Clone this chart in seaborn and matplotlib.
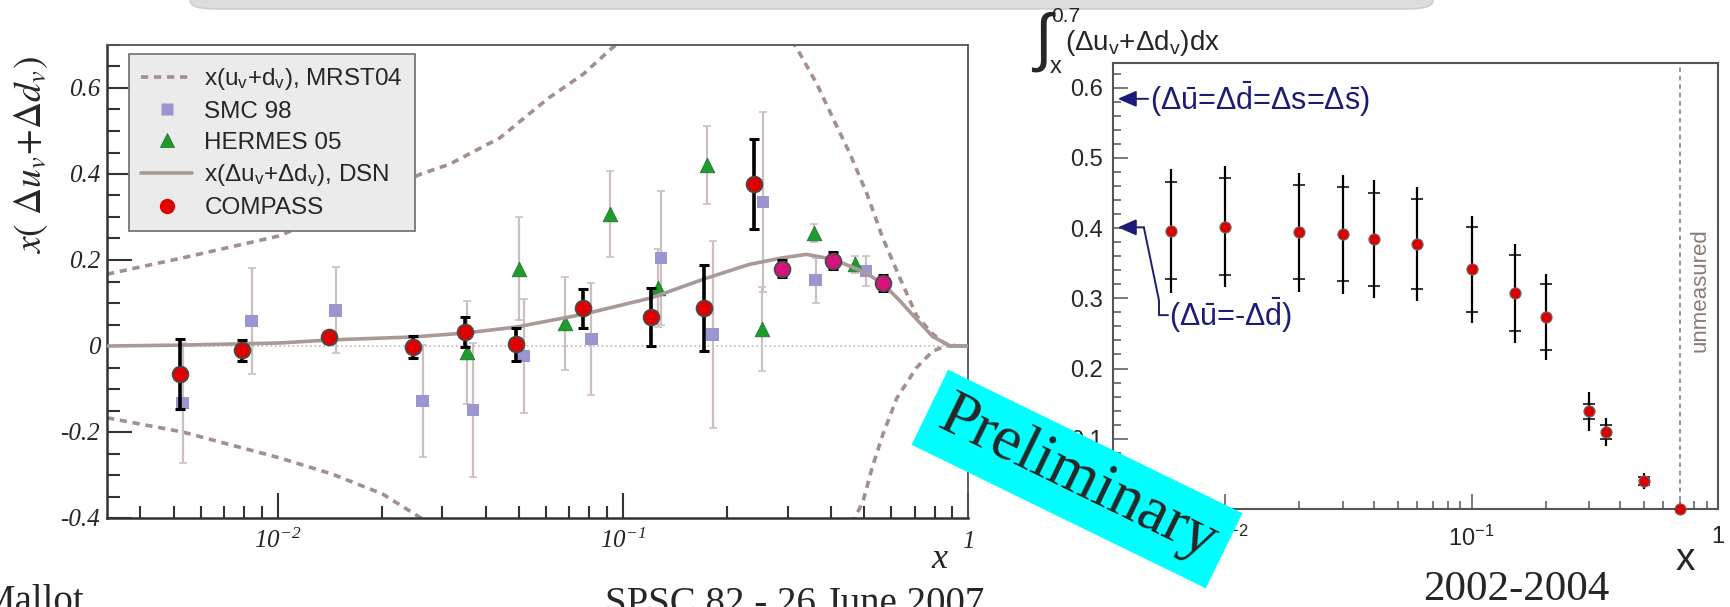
import numpy as np
import matplotlib
matplotlib.use('Agg')
import matplotlib.pyplot as plt
import matplotlib.transforms as mtransforms
from matplotlib.lines import Line2D
from matplotlib.patches import FancyBboxPatch
from matplotlib.ticker import MultipleLocator, FuncFormatter, LogLocator, NullFormatter
import seaborn as sns

# ---- left panel: x(Delta u_v + Delta d_v) ----
mrst_up_x = [0.0032, 0.0053, 0.0101, 0.026, 0.0315, 0.044, 0.061, 0.077, 0.093, 0.12, 0.17,
             0.23, 0.29, 0.319, 0.365, 0.406, 0.455, 0.51, 0.567, 0.635, 0.71, 0.79, 0.86, 0.93, 1.0]
mrst_up_y = [0.167, 0.205, 0.256, 0.40, 0.423, 0.484, 0.577, 0.633, 0.693, 0.76, 0.80,
             0.79, 0.74, 0.693, 0.609, 0.53, 0.447, 0.353, 0.25, 0.158, 0.07, 0.028, 0.005, 0.0, 0.0]
mrst_lo_x = [0.0032, 0.0053, 0.0101, 0.0144, 0.0201, 0.026, 0.032, 0.05, 0.1, 0.2, 0.35, 0.44,
             0.47, 0.497, 0.527, 0.567, 0.622, 0.71, 0.79, 0.86, 0.93, 1.0]
mrst_lo_y = [-0.167, -0.20, -0.26, -0.298, -0.344, -0.40, -0.44, -0.5, -0.7, -0.8, -0.65, -0.45,
             -0.40, -0.36, -0.284, -0.205, -0.121, -0.05, -0.012, 0.0, 0.0, 0.0]

dsn_x = [0.0032, 0.0052, 0.0101, 0.0141, 0.0246, 0.0348, 0.049, 0.077, 0.121, 0.172, 0.233,
         0.29, 0.34, 0.406, 0.5, 0.567, 0.635, 0.71, 0.79, 0.89, 1.0]
dsn_y = [0.0, 0.002, 0.007, 0.014, 0.021, 0.030, 0.044, 0.074, 0.112, 0.156, 0.19,
         0.205, 0.213, 0.202, 0.172, 0.145, 0.105, 0.062, 0.022, 0.0, 0.0]

smc_x = [0.0053, 0.0084, 0.0147, 0.0263, 0.0368, 0.0516, 0.081, 0.129, 0.182, 0.255, 0.362, 0.506]
smc_y = [-0.133, 0.058, 0.083, -0.128, -0.149, -0.023, 0.016, 0.205, 0.027, 0.335, 0.153, 0.174]
smc_err = [0.14, 0.123, 0.10, 0.13, 0.155, 0.133, 0.13, 0.156, 0.218, 0.21, 0.052, 0.035]

hermes_x = [0.0353, 0.050, 0.068, 0.092, 0.126, 0.175, 0.253, 0.358, 0.47]
hermes_y = [-0.015, 0.18, 0.053, 0.307, 0.135, 0.421, 0.04, 0.263, 0.19]
hermes_err = [0.12, 0.12, 0.108, 0.10, 0.09, 0.09, 0.098, 0.02, 0.02]

compass_x = [0.0052, 0.0079, 0.0141, 0.0246, 0.0348, 0.049, 0.0766, 0.121, 0.172, 0.24, 0.289, 0.406, 0.567]
compass_y = [-0.065, -0.010, 0.020, -0.002, 0.033, 0.004, 0.088, 0.067, 0.088, 0.377, 0.180, 0.198, 0.146]
compass_err = [0.081, 0.025, 0.012, 0.025, 0.035, 0.038, 0.045, 0.067, 0.10, 0.105, 0.02, 0.02, 0.018]
n_low = 10  # the last three bins are drawn in magenta

# ---- right panel: integral from x to 0.7 ----
int_x = [0.006, 0.010, 0.020, 0.030, 0.040, 0.060, 0.10, 0.15, 0.20, 0.30, 0.35, 0.50, 0.70]
int_y = [0.396, 0.402, 0.394, 0.391, 0.384, 0.377, 0.341, 0.307, 0.273, 0.139, 0.110, 0.040, 0.0]
int_stat = [0.069, 0.069, 0.067, 0.067, 0.066, 0.064, 0.060, 0.054, 0.047, 0.011, 0.010, 0.006, 0.0]
int_tot = [0.088, 0.086, 0.085, 0.085, 0.084, 0.081, 0.076, 0.070, 0.061, 0.028, 0.020, 0.011, 0.0]
x_max = 0.7
sym_sea = 0.584
flavour_asym = 0.401

C_MRST = '#a38f8c'
C_DSN = '#a99997'
C_ERR = '#cdbfbf'
C_SMC = '#9b95d0'
C_HERMES = '#1e9a2e'
C_RED = '#e00000'
C_MAG = '#d4147c'
NAVY = '#1c1c78'
SERIF = 'Liberation Serif'

sns.set_style('ticks')
plt.rcParams['font.family'] = ['Liberation Sans', 'DejaVu Sans']
plt.rcParams['mathtext.fontset'] = 'custom'
plt.rcParams['mathtext.rm'] = 'Liberation Sans'
plt.rcParams['mathtext.sf'] = 'Liberation Sans'
plt.rcParams['mathtext.it'] = 'Liberation Sans:italic'
plt.rcParams['mathtext.cal'] = 'Liberation Serif:italic'


def fx(px):
    return px / 1730


def fy(py):
    return 1 - py / 607


fig = plt.figure(figsize=(17.3, 6.07), dpi=100)
fig.patch.set_facecolor('white')

# slide title bar remnant
fig.patches.append(FancyBboxPatch((fx(190), fy(9)), fx(1433) - fx(190), 0.06,
                                  boxstyle='round,pad=0,rounding_size=0.014',
                                  transform=fig.transFigure, fc='#dcdcdc', ec='#cccccc', lw=1))

ax = fig.add_axes([fx(107), fy(518), fx(968) - fx(107), fy(45) - fy(518)])
axr = fig.add_axes([fx(1113), fy(509), fx(1718) - fx(1113), fy(63) - fy(509)])

# ---------------- left ----------------
ax.set_xscale('log')
ax.axhline(0, color='#c9b3b3', ls=':', lw=1.2, zorder=1)
sns.lineplot(x=mrst_up_x, y=mrst_up_y, ax=ax, color=C_MRST, lw=2.6, linestyle=(0, (2.0, 1.6)),
             estimator=None, sort=False, legend=False, zorder=2)
sns.lineplot(x=mrst_lo_x, y=mrst_lo_y, ax=ax, color=C_MRST, lw=2.6, linestyle=(0, (2.0, 1.6)),
             estimator=None, sort=False, legend=False, zorder=2)

ax.errorbar(smc_x, smc_y, yerr=smc_err, fmt='none', ecolor=C_ERR, elinewidth=1.6,
            capsize=3, capthick=1.2, zorder=3)
ax.errorbar(hermes_x, hermes_y, yerr=hermes_err, fmt='none', ecolor=C_ERR, elinewidth=1.6,
            capsize=3, capthick=1.2, zorder=3)
sns.scatterplot(x=smc_x, y=smc_y, ax=ax, marker='s', s=80, color=C_SMC, edgecolor='none',
                legend=False, zorder=4)
sns.scatterplot(x=hermes_x, y=hermes_y, ax=ax, marker='^', s=110, color=C_HERMES,
                edgecolor='#1a7a26', linewidth=0.6, legend=False, zorder=4)

sns.lineplot(x=dsn_x, y=dsn_y, ax=ax, color=C_DSN, lw=2.6, estimator=None, sort=False,
             legend=False, zorder=5)

ax.errorbar(compass_x, compass_y, yerr=compass_err, fmt='none', ecolor='black', elinewidth=2.6,
            capsize=3.5, capthick=2.2, zorder=6)
sns.scatterplot(x=compass_x[:n_low], y=compass_y[:n_low], ax=ax, marker='o', s=130, color=C_RED,
                edgecolor='#4a4a4a', linewidth=1.3, legend=False, zorder=7)
sns.scatterplot(x=compass_x[n_low:], y=compass_y[n_low:], ax=ax, marker='o', s=130, color=C_MAG,
                edgecolor='#4a4a4a', linewidth=1.3, legend=False, zorder=7)

ax.set_xlim(0.0032, 1)
ax.set_ylim(-0.4, 0.7)
ax.set_xlabel('')
ax.set_ylabel('')
ax.yaxis.set_major_locator(MultipleLocator(0.2))
ax.yaxis.set_minor_locator(MultipleLocator(0.05))
ax.xaxis.set_major_locator(LogLocator(base=10, numticks=10))
ax.xaxis.set_minor_locator(LogLocator(base=10, subs=np.arange(2, 10), numticks=30))
ax.xaxis.set_minor_formatter(NullFormatter())


def left_x_fmt(v, pos):
    e = int(round(np.log10(v)))
    return r'$\mathcal{1}$' if e == 0 else r'$\mathcal{10^{%d}}$' % e


ax.xaxis.set_major_formatter(FuncFormatter(left_x_fmt))
ax.yaxis.set_major_formatter(FuncFormatter(lambda v, p: '%g' % round(v, 2)))
ax.tick_params(which='both', direction='in', color='#333333', width=1.5, top=False, right=False)
ax.tick_params(axis='y', which='major', length=18, labelsize=18, pad=5, labelfontfamily=SERIF)
ax.tick_params(axis='y', which='minor', length=9.5)
ax.tick_params(axis='x', which='major', length=18, labelsize=18, pad=8)
ax.tick_params(axis='x', which='minor', length=9)
for lab in ax.get_yticklabels():
    lab.set_fontstyle('italic')
for side in ['left', 'bottom']:
    ax.spines[side].set_color('#333333')
    ax.spines[side].set_linewidth(1.8)
for side in ['top', 'right']:
    ax.spines[side].set_color('#555555')
    ax.spines[side].set_linewidth(1.3)

ax.set_ylabel(r'$x(\ \Delta u_v\!+\!\Delta d_v)$', fontsize=27, math_fontfamily='stix')
ax.yaxis.set_label_coords(-0.066, 0.767)

handles = [
    Line2D([], [], color=C_MRST, lw=2.6, linestyle=(0, (2.0, 1.6))),
    Line2D([], [], ls='none', marker='s', ms=9, color=C_SMC, mec='none'),
    Line2D([], [], ls='none', marker='^', ms=10, color=C_HERMES, mec='#1a7a26', mew=0.6),
    Line2D([], [], color=C_DSN, lw=2.6),
    Line2D([], [], ls='none', marker='o', ms=11, color=C_RED, mec='none'),
]
labels = [
    r'x(u$_\mathrm{v}$+d$_\mathrm{v}$), MRST04',
    'SMC 98',
    'HERMES 05',
    r'x(Δu$_\mathrm{v}$+Δd$_\mathrm{v}$), DSN',
    'COMPASS',
]
leg = ax.legend(handles, labels, loc='upper left', bbox_to_anchor=(0.0256, 0.981), fontsize=17.5,
                frameon=True, fancybox=False, framealpha=1, facecolor='#ebebeb', edgecolor='#777777',
                handlelength=2.1, handletextpad=0.5, labelspacing=0.36, borderpad=0.5,
                borderaxespad=0)
leg.get_frame().set_linewidth(1.3)
leg.set_zorder(10)

fig.text(fx(940), fy(558), r'$\mathcal{x}$', fontsize=26, ha='center', va='center')

# ---------------- right ----------------
axr.set_xscale('log')
axr.errorbar(int_x, int_y, yerr=int_tot, fmt='none', ecolor='black', elinewidth=1.6, capsize=0,
             zorder=3)
axr.errorbar(int_x, int_y, yerr=int_stat, fmt='none', ecolor='black', elinewidth=0, capsize=4,
             capthick=1.1, zorder=3)
sns.scatterplot(x=int_x, y=int_y, ax=axr, marker='o', s=64, color='#dd0000', edgecolor='#6a6a6a',
                linewidth=0.8, legend=False, zorder=4, clip_on=False)
axr.axvline(x_max, color='#777777', ls=(0, (3, 2.5)), lw=1.1, zorder=2)
axr.set_xlim(0.0035, 1)
axr.set_ylim(0, 0.635)
axr.set_xlabel('')
axr.set_ylabel('')
axr.yaxis.set_major_locator(MultipleLocator(0.1))
axr.yaxis.set_minor_locator(MultipleLocator(0.02))
axr.xaxis.set_major_locator(LogLocator(base=10, numticks=10))
axr.xaxis.set_minor_locator(LogLocator(base=10, subs=np.arange(2, 10), numticks=30))
axr.xaxis.set_minor_formatter(NullFormatter())


def right_x_fmt(v, pos):
    e = int(round(np.log10(v)))
    return r'$\mathrm{1}$' if e == 0 else r'$\mathrm{10^{%d}}$' % e


axr.xaxis.set_major_formatter(FuncFormatter(right_x_fmt))
axr.yaxis.set_major_formatter(FuncFormatter(lambda v, p: '%g' % round(v, 2)))
axr.tick_params(which='both', direction='in', color='#555555', width=1.1, top=False, right=False)
axr.tick_params(axis='y', which='major', length=11, labelsize=17, pad=7)
axr.tick_params(axis='y', which='minor', length=5.5)
axr.tick_params(axis='x', which='major', length=10.5, labelsize=17, pad=12)
axr.tick_params(axis='x', which='minor', length=6)
for side in axr.spines:
    axr.spines[side].set_color('#555555')
    axr.spines[side].set_linewidth(1.5)

blend = mtransforms.blended_transform_factory(axr.transAxes, axr.transData)
arrow_kw = dict(arrowstyle='-|>,head_length=0.8,head_width=0.35', color=NAVY, lw=1.4,
                shrinkA=0, shrinkB=0, mutation_scale=14)
axr.annotate('', xy=(0.008, sym_sea), xytext=(0.058, sym_sea), xycoords=blend, textcoords=blend,
             arrowprops=arrow_kw)
axr.text(0.061, sym_sea,
         r'(Δ$\bar{\mathrm{u}}$=Δ$\bar{\mathrm{d}}$=Δs=Δ$\bar{\mathrm{s}}$)',
         transform=blend, color=NAVY, fontsize=22, ha='left', va='center')
axr.annotate('', xy=(0.008, flavour_asym), xytext=(0.051, flavour_asym), xycoords=blend,
             textcoords=blend, arrowprops=arrow_kw)
axr.plot([0.051, 0.076, 0.076, 0.091], [flavour_asym, 0.297, 0.276, 0.276], transform=blend,
         color=NAVY, lw=1.4, clip_on=False)
axr.text(0.093, 0.276, r'(Δ$\bar{\mathrm{u}}$=-Δ$\bar{\mathrm{d}}$)', transform=blend,
         color=NAVY, fontsize=22, ha='left', va='center')
axr.text(0.97, 0.311, 'unmeasured', transform=blend, rotation=90, color='#8c7b76', fontsize=16,
         ha='center', va='center')

# integral label
fig.text(fx(1043), fy(42), '∫', fontsize=46, ha='center', va='center')
fig.text(fx(1051), fy(17), '0.7', fontsize=15, ha='left', va='center')
fig.text(fx(1050), fy(67), 'x', fontsize=17, ha='left', va='center')
fig.text(fx(1065), fy(50), r'(Δu$_\mathrm{v}$+Δd$_\mathrm{v}$)dx', fontsize=20,
         ha='left', va='baseline')
fig.text(fx(1685), fy(560), 'x', fontsize=28, ha='center', va='center')

# slide footer and stamp
fig.text(fx(85), fy(612), 'Mallot', family=SERIF, fontsize=28, ha='right', va='baseline')
fig.text(fx(605), fy(614), 'SPSC 82 - 26 June 2007', family=SERIF, fontsize=28, ha='left',
         va='baseline')
fig.text(fx(1423), fy(600), '2002-2004', family=SERIF, fontsize=31, ha='left', va='baseline')
fig.text(fx(1077), fy(479), 'Preliminary', family=SERIF, fontsize=46, rotation=-26,
         rotation_mode='anchor', ha='center', va='center', zorder=20,
         bbox=dict(boxstyle='square,pad=0.2', fc='#00ffff', ec='none'))

fig.savefig('out.png', dpi=100)
